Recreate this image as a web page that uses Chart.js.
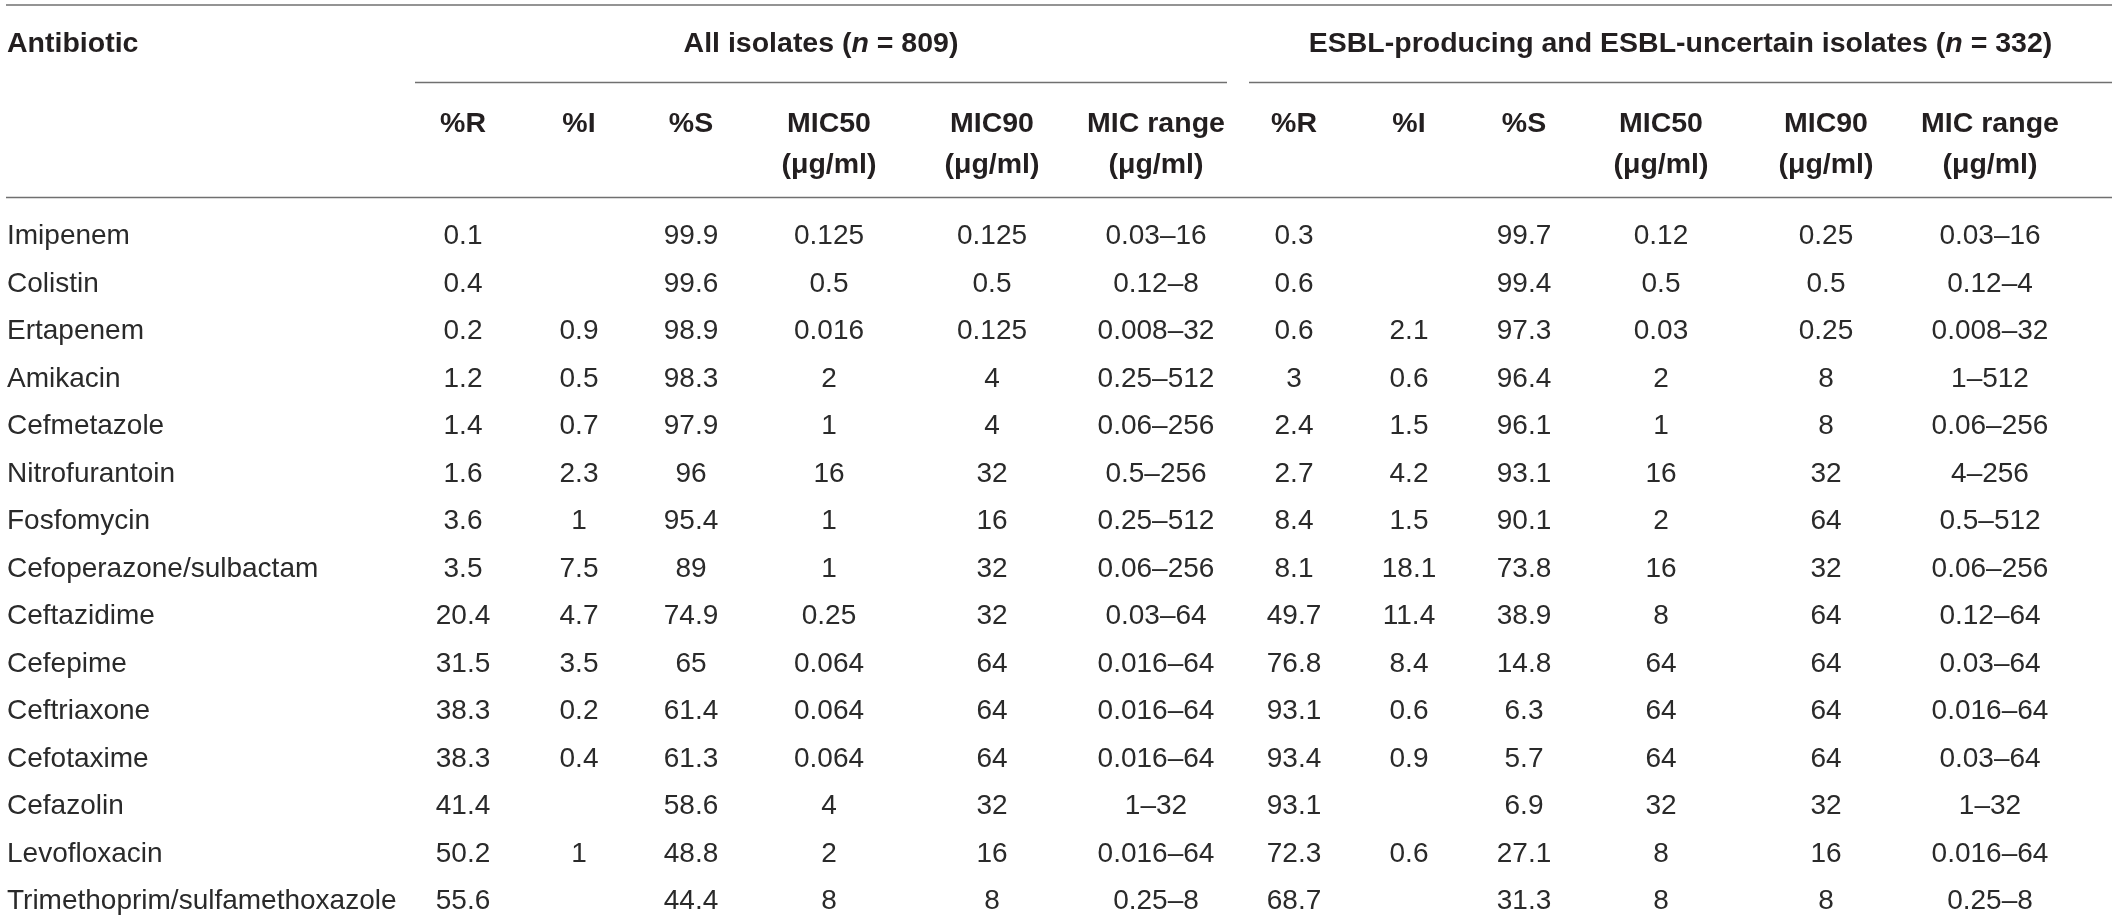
<!DOCTYPE html>
<html>
<head>
<meta charset="utf-8">
<script src="https://cdn.jsdelivr.net/npm/chart.js@4.4.1/dist/chart.umd.min.js"></script>
<style>
  html, body { margin:0; padding:0; background:#ffffff; }
  #wrap { width:2118px; height:917px; }
</style>
</head>
<body>
<div id="wrap"><canvas id="c" width="2118" height="917"></canvas></div>
<script>
// ---------------- DATA ----------------
const antibiotics = ['Imipenem','Colistin','Ertapenem','Amikacin','Cefmetazole','Nitrofurantoin','Fosfomycin',
  'Cefoperazone/sulbactam','Ceftazidime','Cefepime','Ceftriaxone','Cefotaxime','Cefazolin','Levofloxacin',
  'Trimethoprim/sulfamethoxazole'];

const allR     = [0.1,0.4,0.2,1.2,1.4,1.6,3.6,3.5,20.4,31.5,38.3,38.3,41.4,50.2,55.6];
const allI     = [null,null,0.9,0.5,0.7,2.3,1,7.5,4.7,3.5,0.2,0.4,null,1,null];
const allS     = [99.9,99.6,98.9,98.3,97.9,96,95.4,89,74.9,65,61.4,61.3,58.6,48.8,44.4];
const allMIC50 = [0.125,0.5,0.016,2,1,16,1,1,0.25,0.064,0.064,0.064,4,2,8];
const allMIC90 = [0.125,0.5,0.125,4,4,32,16,32,32,64,64,64,32,16,8];
const allRange = ['0.03–16','0.12–8','0.008–32','0.25–512','0.06–256','0.5–256','0.25–512','0.06–256',
  '0.03–64','0.016–64','0.016–64','0.016–64','1–32','0.016–64','0.25–8'];

const esblR     = [0.3,0.6,0.6,3,2.4,2.7,8.4,8.1,49.7,76.8,93.1,93.4,93.1,72.3,68.7];
const esblI     = [null,null,2.1,0.6,1.5,4.2,1.5,18.1,11.4,8.4,0.6,0.9,null,0.6,null];
const esblS     = [99.7,99.4,97.3,96.4,96.1,93.1,90.1,73.8,38.9,14.8,6.3,5.7,6.9,27.1,31.3];
const esblMIC50 = [0.12,0.5,0.03,2,1,16,2,16,8,64,64,64,32,8,8];
const esblMIC90 = [0.25,0.5,0.25,8,8,32,64,32,64,64,64,64,32,16,8];
const esblRange = ['0.03–16','0.12–4','0.008–32','1–512','0.06–256','4–256','0.5–512','0.06–256',
  '0.12–64','0.03–64','0.016–64','0.03–64','1–32','0.016–64','0.25–8'];

const rowHeader = 'Antibiotic';
const colHeaders = [['%R'],['%I'],['%S'],['MIC50','(\u03bcg/ml)'],['MIC90','(\u03bcg/ml)'],['MIC range','(\u03bcg/ml)']];
const groupTitles = [
  ['All isolates (', 'n', ' = 809)'],
  ['ESBL-producing and ESBL-uncertain isolates (', 'n', ' = 332)']
];

// ---------------- LAYOUT (not data) ----------------
const colCenters = [463,579,691,829,992,1156, 1294,1409,1524,1661,1826,1990];
const groupSpans = [[415,1227],[1249,2112]];
const tableSpan = [6,2112];
const FONT = "'Liberation Sans', Arial, Helvetica, sans-serif";

const columns = [allR, allI, allS, allMIC50, allMIC90, allRange,
                 esblR, esblI, esblS, esblMIC50, esblMIC90, esblRange];

const datasets = columns.map((vals, j) => ({
  label: 'col' + j,
  data: vals.map((v, i) => v === null ? null : { x: colCenters[j], y: antibiotics[i], t: String(v) })
            .filter(p => p !== null),
  pointRadius: 0,
  pointHoverRadius: 0,
  showLine: false
}));

const tablePlugin = {
  id: 'tableText',
  afterDatasetsDraw(chart) {
    const ctx = chart.ctx;
    const xs = chart.scales.x, ys = chart.scales.y;
    const px = v => xs.getPixelForValue(v);
    ctx.save();

    // rules
    ctx.strokeStyle = '#707070';
    ctx.lineWidth = 1.5;
    const hline = (x0, x1, y) => { ctx.beginPath(); ctx.moveTo(px(x0), y); ctx.lineTo(px(x1), y); ctx.stroke(); };
    hline(tableSpan[0], tableSpan[1], 5);
    groupSpans.forEach(s => hline(s[0], s[1], 82.5));
    hline(tableSpan[0], tableSpan[1], 197.5);

    // header texts
    ctx.fillStyle = '#231f20';
    ctx.textBaseline = 'alphabetic';
    const bold = "bold 28.5px " + FONT;
    const boldIt = "italic bold 28.5px " + FONT;
    ctx.font = bold;
    ctx.textAlign = 'left';
    ctx.fillText(rowHeader, px(tableSpan[0]) + 1, 52);

    groupTitles.forEach((parts, g) => {
      const fonts = [bold, boldIt, bold];
      let widths = parts.map((p, k) => { ctx.font = fonts[k]; return ctx.measureText(p).width; });
      const total = widths.reduce((a, b) => a + b, 0);
      const c = (px(groupSpans[g][0]) + px(groupSpans[g][1])) / 2;
      let xpos = c - total / 2;
      parts.forEach((p, k) => { ctx.font = fonts[k]; ctx.fillText(p, xpos, 52); xpos += widths[k]; });
    });

    ctx.font = bold;
    ctx.textAlign = 'center';
    colCenters.forEach((cx, j) => {
      const h = colHeaders[j % colHeaders.length];
      h.forEach((line, k) => ctx.fillText(line, px(cx), 132 + k * 41));
    });

    // row labels
    ctx.font = "28px " + FONT;
    ctx.fillStyle = '#2a2a2a';
    ctx.textAlign = 'left';
    antibiotics.forEach((name, i) => ctx.fillText(name, px(tableSpan[0]) + 1, ys.getPixelForValue(i) + 10));

    // cells
    ctx.textAlign = 'center';
    chart.data.datasets.forEach((ds, di) => {
      const meta = chart.getDatasetMeta(di);
      meta.data.forEach((el, k) => ctx.fillText(ds.data[k].t, el.x, el.y + 10));
    });
    ctx.restore();
  }
};

new Chart(document.getElementById('c'), {
  type: 'scatter',
  data: { datasets },
  options: {
    responsive: false,
    devicePixelRatio: 1,
    animation: false,
    events: [],
    layout: { padding: { top: 234, bottom: 18, left: 0, right: 0 } },
    plugins: { legend: { display: false }, tooltip: { enabled: false } },
    scales: {
      x: { type: 'linear', min: 0, max: 2118, display: false },
      y: { type: 'category', labels: antibiotics, offset: false, display: false }
    }
  },
  plugins: [tablePlugin]
});
</script>
</body>
</html>
